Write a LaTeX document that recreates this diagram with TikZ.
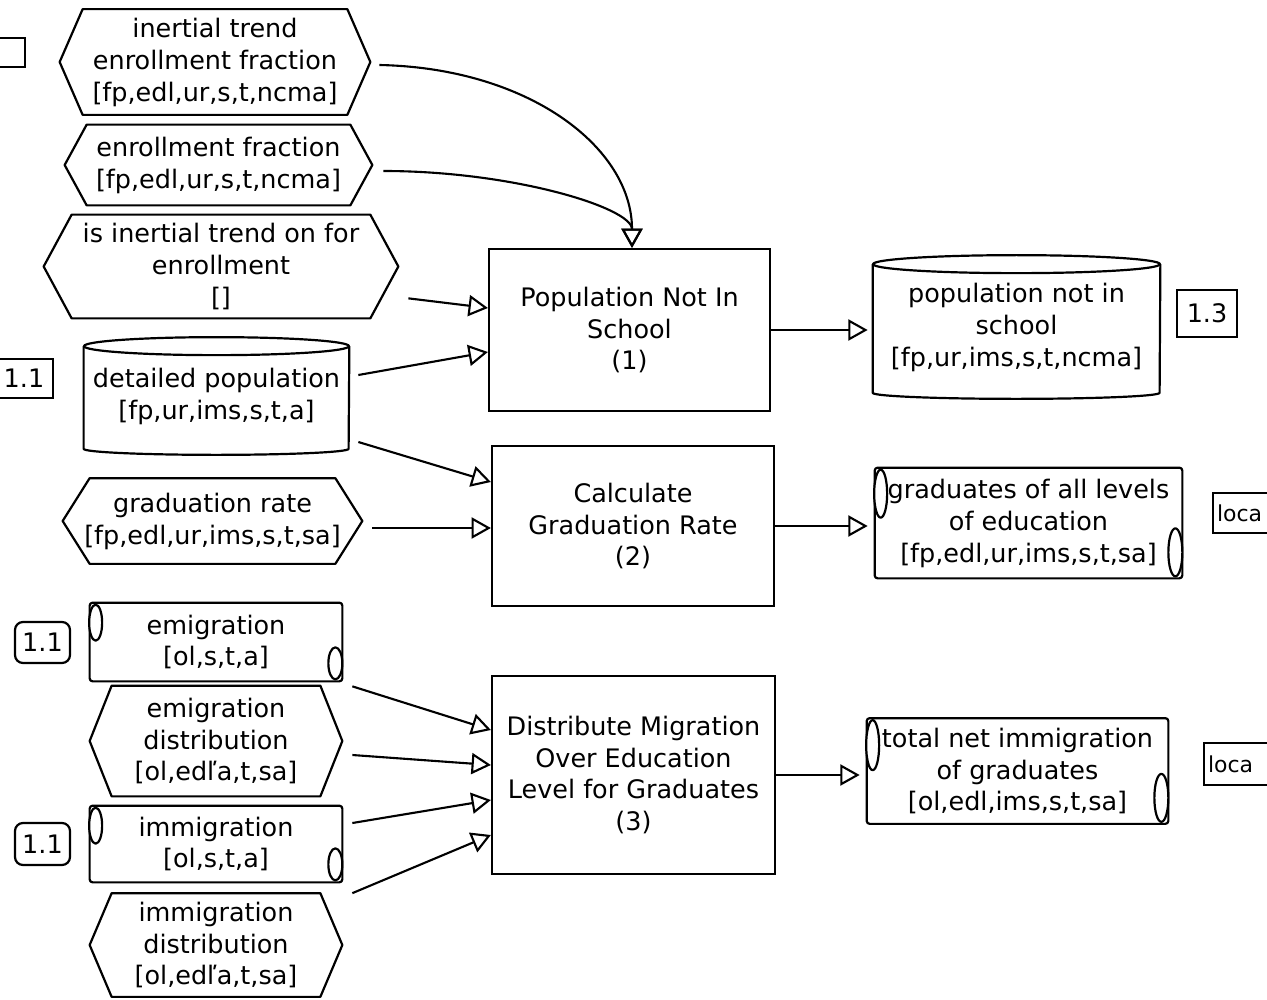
\documentclass[tikz,border=0pt]{standalone}
\usepackage{fontspec}
\setmainfont{DejaVu Sans}
\usetikzlibrary{arrows.meta,calc}
\newcommand\hexa[2]{\draw[shp] (#1.west) -- ($(#1.north west)+(#2,0)$) -- ($(#1.north east)+(-#2,0)$) -- (#1.east) -- ($(#1.south east)+(-#2,0)$) -- ($(#1.south west)+(#2,0)$) -- cycle;}
\newcommand\cyl[2]{\draw[shp] ($(#1.north west)+(0,9)$) -- ($(#1.south west)+(0,-6)$) arc[start angle=180,end angle=360,x radius=#2cm,y radius=0.12cm] -- ($(#1.north east)+(0,9)$);
 \draw[shp] ($(#1.north)+(0,9)$) ellipse[x radius=#2cm, y radius=0.18cm];}
\newcommand\scrl[3]{\draw[shp, rounded corners=0.06cm] (#1.north west) rectangle (#1.south east);
 \draw[shp, fill=white] ($(#1.north west)+(6,#2+2)$) ellipse[x radius=0.13cm, y radius=#2*0.02cm];
 \draw[shp, fill=white] ($(#1.south east)+(-7,-#3-2)$) ellipse[x radius=0.14cm, y radius=#3*0.02cm];}
\begin{document}
\begin{tikzpicture}[x=0.02cm,y=-0.02cm,
  font=\fontsize{14.5}{18.2}\selectfont,
  shp/.style={line width=1.25pt, line join=round},
  base/.style={inner sep=0pt, align=center},
  sz/.style 2 args={minimum width=#1*0.02cm, minimum height=#2*0.02cm},
  proc/.style={draw, line width=1.25pt, base},
  ref/.style={draw, line width=1.25pt, inner sep=0pt},
  arr/.style={line width=1.2pt, -{Triangle[open,length=11pt,width=12pt]}},
]
\useasboundingbox (0,0) rectangle (1267,1000);

% left inputs
\node[base, sz={310}{105}] (itef) at (215,62) {inertial trend\\enrollment fraction\\{[fp,edl,ur,s,t,ncma]}};
\hexa{itef}{23}
\node[base, sz={307}{80}] (ef) at (218.5,165) {enrollment fraction\\{[fp,edl,ur,s,t,ncma]}};
\hexa{ef}{22}
\node[base, sz={354}{103}] (itoe) at (221,266.5) {is inertial trend on for\\enrollment\\{[]}};
\hexa{itoe}{28}
\node[base, sz={265}{117}] (detpop) at (216.5,396) {detailed population\\{[fp,ur,ims,s,t,a]}};
\cyl{detpop}{2.65}
\node[base, sz={299}{85}] (gradrate) at (212.5,521) {graduation rate\\{[fp,edl,ur,ims,s,t,sa]}};
\hexa{gradrate}{27}
\node[base, sz={252}{78}] (emig) at (216,642) {emigration\\{[ol,s,t,a]}};
\scrl{emig}{18}{16}
\node[base, sz={252}{110}] (emigd) at (216,741) {emigration\\distribution\\{[ol,edľa,t,sa]}};
\hexa{emigd}{22}
\node[base, sz={252}{76}] (immig) at (216,844) {immigration\\{[ol,s,t,a]}};
\scrl{immig}{18}{16}
\node[base, sz={252}{103}] (immigd) at (216,945) {immigration\\distribution\\{[ol,edľa,t,sa]}};
\hexa{immigd}{22}

% processes
\node[proc, sz={281}{162}] (P1) at (629.5,330) {Population Not In\\School\\(1)};
\node[proc, sz={282}{160}] (P2) at (633,526) {Calculate\\Graduation Rate\\(2)};
\node[proc, sz={283}{198}] (P3) at (633.5,775) {Distribute Migration\\Over Education\\Level for Graduates\\(3)};

% outputs
\node[base, sz={287}{143}] (pnis) at (1016.5,327) {population not in\\school\\{[fp,ur,ims,s,t,ncma]}};
\cyl{pnis}{2.87}
\node[base, sz={307}{110}] (grads) at (1028.5,523) {graduates of all levels\\of education\\{[fp,edl,ur,ims,s,t,sa]}};
\scrl{grads}{24}{24}
\node[base, sz={301}{105}] (tni) at (1017.5,771) {total net immigration\\of graduates\\{[ol,edl,ims,s,t,sa]}};
\scrl{tni}{25}{24}

% reference boxes
\node[ref, sz={45}{29}] (refA) at (2.5,52.5) {};
\node[ref, sz={58}{39}] (r1) at (24,378.5) {1.1};
\node[ref, rounded corners=0.16cm, sz={55}{41}] (r2) at (42.5,642.5) {1.1};
\node[ref, rounded corners=0.16cm, sz={55}{42}] (r3) at (42.5,844) {1.1};
\node[ref, sz={60}{47}] (r4) at (1207,313.5) {1.3};
\node[ref, anchor=west, minimum height=0.8cm, text width=1.6cm, inner xsep=0.08cm, align=left, font=\fontsize{12.5}{14}\selectfont] (loc1) at (1212,513) {loca};
\node[ref, anchor=west, minimum height=0.84cm, text width=1.6cm, inner xsep=0.08cm, align=left, font=\fontsize{12.5}{14}\selectfont] (loc2) at (1203,764) {loca};

% connectors
\draw[arr] ($(itef.east)+(9,3)$) .. controls +(150,3) and +(0,-100) .. ($(P1.north)+(2.5,0)$);
\draw[arr] ($(ef.east)+(11,6)$) .. controls +(130,0) and +(0,-40) .. ($(P1.north)+(2.5,0)$);
\draw[arr] ($(itoe.south east)+(10,-20)$) -- ($(P1.west)+(0,-22)$);
\draw[arr] ($(detpop.east)+(9,-21)$) -- ($(P1.west)+(0,22)$);
\draw[arr] ($(detpop.east)+(9,46)$) -- ($(P2.west)+(0,-44)$);
\draw[arr] ($(gradrate.east)+(10,7)$) -- ($(P2.west)+(0,2)$);
\draw[arr, shorten >=0.1cm] (P1.east) -- (P1.east -| pnis.west);
\draw[arr, shorten >=0.14cm] (P2.east) -- (P2.east -| grads.west);
\draw[arr, shorten >=0.14cm] (P3.east) -- (P3.east -| tni.west);
\draw[arr] ($(emig.south east)+(10,5)$) -- ($(P3.west)+(0,-45)$);
\draw[arr] ($(emigd.east)+(10,14)$) -- ($(P3.west)+(0,-10)$);
\draw[arr] ($(immig.east)+(10,-21)$) -- ($(P3.west)+(0,25)$);
\draw[arr] ($(immigd.north east)+(10,0)$) -- ($(P3.west)+(0,60)$);
\end{tikzpicture}
\end{document}
